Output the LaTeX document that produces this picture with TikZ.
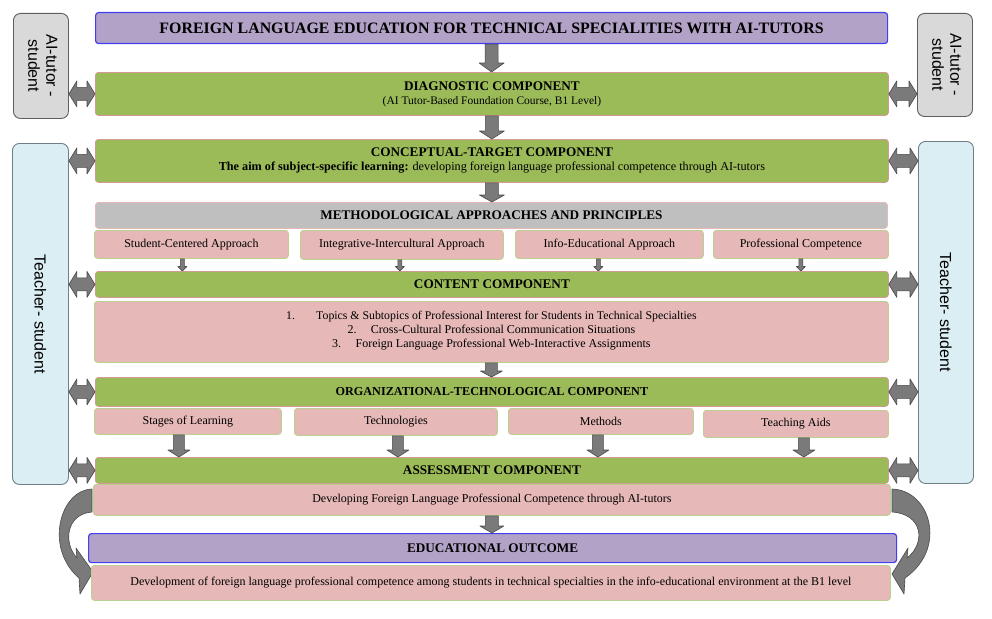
\documentclass[tikz,border=0pt]{standalone}
\usepackage{fontspec}
\setmainfont{Liberation Serif}
\newfontfamily\sidefont{Liberation Sans}
\usetikzlibrary{calc}

\definecolor{grn}{HTML}{9BBB59}
\definecolor{grnline}{HTML}{D29A95}
\definecolor{pnk}{HTML}{E6B9B8}
\definecolor{pnkline}{HTML}{B9D08F}
\definecolor{lav}{HTML}{B3A2C7}
\definecolor{blu}{HTML}{4040F0}
\definecolor{gry}{HTML}{BFBFBF}
\definecolor{lgry}{HTML}{D9D9D9}
\definecolor{lblue}{HTML}{DAEEF3}
\definecolor{sideline}{HTML}{6F7F86}
\definecolor{ailine}{HTML}{5E5E5E}
\definecolor{arrfill}{HTML}{7A7A7A}
\definecolor{arrline}{HTML}{4A4A4A}

% text sizes
\newcommand\ttlfont{\fontsize{15.9}{18}\selectfont\bfseries}
\newcommand\hdfont{\fontsize{13.2}{15}\selectfont\bfseries}
\newcommand\subfont{\fontsize{12}{14}\selectfont}

% box given by its corners: style, name, x1, y1, x2, y2, text
\newcommand\blk[7]{\node[#1, anchor=north west,
  minimum width={(#5-#3)*1pt}, minimum height={(#6-#4)*1pt}] (#2) at (#3,#4) {#7};}

% downward block arrow: from, to, shaft half width, head half width, head length
\newcommand\vdown[5]{\path[blockarr] let \p1=#1, \p2=#2 in
  (\x1-#3,\y1) -- (\x1+#3,\y1) -- (\x1+#3,\y2+#5) -- (\x1+#4,\y2+#5) -- (\x1,\y2)
  -- (\x1-#4,\y2+#5) -- (\x1-#3,\y2+#5) -- cycle;}

% horizontal double block arrow between a left and a right point
\newcommand\hboth[2]{\path[blockarr] let \p1=#1, \p2=#2 in
  (\x1,\y1) -- (\x1+8pt,\y1+13pt) -- (\x1+8pt,\y1+6.5pt) -- (\x2-8pt,\y1+6.5pt)
  -- (\x2-8pt,\y1+13pt) -- (\x2,\y1) -- (\x2-8pt,\y1-13pt) -- (\x2-8pt,\y1-6.5pt)
  -- (\x1+8pt,\y1-6.5pt) -- (\x1+8pt,\y1-13pt) -- cycle;}

\begin{document}
\begin{tikzpicture}[x=1pt,y=-1pt,
  box/.style={rounded corners=3pt, inner sep=0pt, align=center, line width=0.8pt},
  greenbox/.style={box, fill=grn, draw=grnline},
  pinkbox/.style={box, fill=pnk, draw=pnkline, font=\subfont},
  purplebox/.style={box, fill=lav, draw=blu, line width=1.2pt},
  graybox/.style={box, fill=gry, draw=pnk},
  sidebox/.style={rounded corners=7pt, inner sep=0pt, align=center, line width=0.9pt,
    draw=sideline, font=\sidefont\fontsize{16}{18}\selectfont},
  blockarr/.style={fill=arrfill, draw=arrline, line width=0.6pt, line join=round}]

\useasboundingbox (0,0) rectangle (992,618);
\fill[white] (0,0) rectangle (992,618);

% curved arrows from the assessment component down to the outcome
\path[blockarr] (92,489) .. controls (60,490) and (44,548) .. (79,578) -- (80,594)
  -- (93,572) -- (76,548) -- (77,558) .. controls (63,543) and (66,514) .. (92,512) -- cycle;
\begin{scope}[shift={(984,0)}, xscale=-1]
\path[blockarr] (92,489) .. controls (54,490) and (36,548) .. (79,578) -- (80,594)
  -- (92,574) -- (76,548) -- (77,558) .. controls (58,543) and (61,514) .. (92,512) -- cycle;
\end{scope}

% side boxes
\blk{sidebox, fill=lgry, draw=ailine}{aiL}{13}{13}{68}{118}{\rotatebox{-90}{\begin{tabular}{@{}c@{}}AI-tutor -\\student\end{tabular}}}
\blk{sidebox, fill=lgry, draw=ailine}{aiR}{917}{13}{972}{116}{\rotatebox{-90}{\begin{tabular}{@{}c@{}}AI-tutor -\\student\end{tabular}}}
\blk{sidebox, fill=lblue}{tsL}{12}{143}{68}{484}{\rotatebox{-90}{Teacher- student}}
\blk{sidebox, fill=lblue}{tsR}{918}{141}{973}{483}{\rotatebox{-90}{Teacher- student}}

% main column
\blk{purplebox}{title}{95}{12}{887}{43}{\ttlfont FOREIGN LANGUAGE EDUCATION FOR TECHNICAL SPECIALITIES WITH AI-TUTORS}
\blk{greenbox}{diag}{95}{72}{888}{115}{{\hdfont DIAGNOSTIC COMPONENT}\\[2pt]{\fontsize{11.5}{13}\selectfont (AI Tutor-Based Foundation Course, B1 Level)}}
\blk{greenbox}{concept}{95}{139}{888}{182}{{\hdfont CONCEPTUAL-TARGET COMPONENT}\\[2pt]{\fontsize{12.2}{13}\selectfont\textbf{The aim of subject-specific learning:} developing foreign language professional competence through AI-tutors}}
\blk{graybox}{meth}{95}{202}{887}{228}{\hdfont METHODOLOGICAL APPROACHES AND PRINCIPLES}
\blk{pinkbox}{m1}{94}{230}{288}{258}{Student-Centered Approach}
\blk{pinkbox}{m2}{300}{230}{503}{259}{Integrative-Intercultural Approach}
\blk{pinkbox}{m3}{515}{230}{703}{258}{Info-Educational Approach}
\blk{pinkbox}{m4}{713}{230}{888}{258}{Professional Competence}
\blk{greenbox}{content}{95}{271}{888}{297}{\hdfont CONTENT COMPONENT}
\blk{pinkbox}{ctext}{94}{301}{888}{362}{\fontsize{11.8}{14}\selectfont
  1.\hspace{1.8em}Topics \& Subtopics of Professional Interest for Students in Technical Specialties\\
  2.\hspace{1.2em}Cross-Cultural Professional Communication Situations\\
  3.\hspace{1.2em}Foreign Language Professional Web-Interactive Assignments\\[-9pt]}
\blk{greenbox}{org}{95}{377}{888}{406}{\fontsize{12.2}{15}\selectfont\bfseries ORGANIZATIONAL-TECHNOLOGICAL COMPONENT}
\blk{pinkbox}{o1}{94}{408}{281}{434}{Stages of Learning}
\blk{pinkbox}{o2}{294}{408}{497}{435}{Technologies}
\blk{pinkbox}{o3}{508}{408}{693}{434}{Methods}
\blk{pinkbox}{o4}{703}{410}{888}{437}{Teaching Aids}
\blk{greenbox}{assess}{95}{457}{888}{483}{\hdfont ASSESSMENT COMPONENT}
\blk{pinkbox}{atext}{93}{484}{890}{515}{Developing Foreign Language Professional Competence through AI-tutors}
\blk{purplebox}{outcome}{88}{533}{896}{562}{\hdfont EDUCATIONAL OUTCOME}
\blk{pinkbox}{otext}{91}{565}{890}{600}{Development of foreign language professional competence among students in technical specialties in the info-educational environment at the B1 level}

% flow downwards
\vdown{(title.south)}{(diag.north)}{6.5pt}{12.5pt}{9pt}
\vdown{(diag.south)}{(concept.north)}{6.5pt}{12.5pt}{8pt}
\vdown{(concept.south)}{(meth.north)}{6.5pt}{12.5pt}{7pt}
\foreach \bx/\dx in {m1/-9,m2/-2,m3/-11,m4/0}
  \vdown{($(\bx.south)+(\dx,0)$)}{($(\bx.south |- content.north)+(\dx,0)$)}{2pt}{4.5pt}{4.5pt};
\vdown{(ctext.south)}{(org.north)}{6pt}{11pt}{6pt}
\foreach \bx/\dx in {o1/-9,o2/2,o3/-3,o4/8}
  \vdown{($(\bx.south)+(\dx,0)$)}{($(\bx.south |- assess.north)+(\dx,0)$)}{5.5pt}{11pt}{7pt};
\vdown{(atext.south)}{(outcome.north)}{6.5pt}{12pt}{7pt}

% links with the side boxes
\hboth{(aiL.east |- diag.west)}{(diag.west)}
\hboth{(diag.east)}{(aiR.west |- diag.east)}
\foreach \bx in {concept,content,org,assess} {
  \hboth{(tsL.east |- \bx.west)}{(\bx.west)}
  \hboth{(\bx.east)}{(tsR.west |- \bx.east)}
}
\end{tikzpicture}
\end{document}
